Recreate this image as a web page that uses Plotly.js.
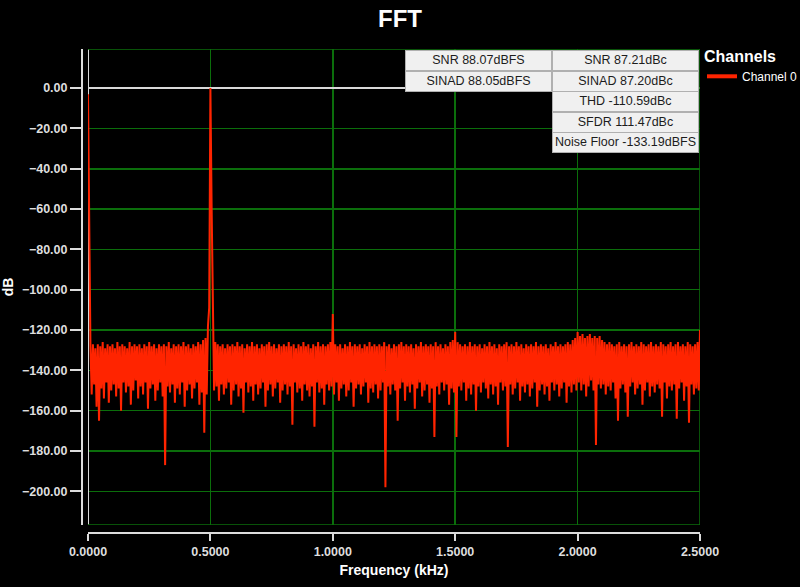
<!DOCTYPE html>
<html>
<head>
<meta charset="utf-8">
<script src="https://cdn.plot.ly/plotly-3.0.1.min.js"></script>
<style>
  html, body { margin: 0; padding: 0; background: #000; }
  #plot_area { width: 800px; height: 587px; }
</style>
</head>
<body>
<div id="plot_area"></div>
<script>
// FFT of channel 0, one value per bin (bin width 5 Hz, 0 .. 2.5 kHz)
const freqStartKhz = 0;
const binWidthKhz = 0.005;
const channel0Db = [
  -3, -76, -128, -152, -127, -147, -129, -158, -127, -165, -128, -149, -126, -154, -129, -146, -127, -156, -128, -150,
  -127, -147, -129, -153, -126, -149, -128, -160, -127, -146, -128, -151, -129, -148, -126, -157, -128, -150, -127, -145,
  -128, -154, -127, -148, -129, -152, -127, -146, -128, -159, -126, -149, -128, -147, -127, -155, -129, -150, -127, -146,
  -128, -153, -127, -187, -128, -148, -126, -151, -129, -147, -127, -156, -128, -149, -127, -152, -128, -146, -126, -158,
  -128, -150, -127, -147, -129, -154, -127, -149, -128, -146, -126, -157, -127, -151, -125, -171, -124, -152, -118, -109,
  0, -59, -110, -150, -126, -148, -127, -155, -128, -147, -127, -152, -129, -149, -127, -146, -128, -157, -127, -150,
  -128, -147, -126, -153, -128, -149, -127, -161, -129, -146, -127, -151, -128, -148, -126, -155, -128, -147, -127, -152,
  -129, -149, -127, -146, -128, -158, -127, -150, -126, -147, -128, -153, -127, -149, -129, -146, -127, -156, -128, -150,
  -127, -147, -128, -152, -126, -148, -128, -167, -127, -146, -129, -151, -127, -149, -128, -155, -126, -147, -128, -150,
  -127, -153, -129, -148, -127, -168, -128, -146, -126, -151, -128, -149, -127, -157, -128, -147, -127, -150, -126, -148,
  -112, -152, -127, -146, -128, -155, -127, -149, -129, -147, -127, -153, -128, -150, -126, -146, -128, -158, -127, -149,
  -128, -147, -127, -152, -129, -148, -127, -146, -128, -156, -126, -149, -128, -151, -127, -147, -128, -154, -127, -150,
  -128, -146, -126, -198, -128, -148, -127, -152, -129, -147, -127, -150, -128, -165, -127, -149, -126, -146, -128, -155,
  -127, -148, -128, -151, -127, -147, -129, -159, -127, -149, -128, -146, -126, -153, -128, -150, -127, -147, -128, -156,
  -127, -149, -128, -173, -126, -148, -128, -152, -127, -146, -129, -150, -127, -147, -128, -157, -126, -149, -125, -151,
  -121, -173, -126, -148, -127, -150, -128, -146, -127, -155, -128, -149, -126, -152, -128, -147, -127, -160, -128, -148,
  -127, -151, -129, -146, -127, -149, -128, -154, -126, -147, -128, -152, -127, -148, -129, -157, -127, -146, -128, -150,
  -127, -148, -126, -178, -128, -147, -127, -152, -128, -149, -126, -146, -128, -155, -127, -148, -129, -151, -127, -147,
  -128, -153, -127, -149, -128, -146, -126, -158, -128, -150, -127, -147, -128, -152, -127, -148, -129, -155, -127, -146,
  -128, -150, -126, -147, -128, -153, -127, -149, -128, -146, -127, -156, -126, -148, -127, -151, -125, -147, -124, -150,
  -121, -146, -123, -150, -122, -147, -124, -153, -123, -148, -122, -145, -124, -150, -123, -177, -124, -147, -123, -149,
  -125, -147, -126, -152, -127, -148, -126, -150, -127, -146, -128, -154, -127, -165, -126, -149, -128, -147, -127, -151,
  -128, -163, -127, -148, -126, -146, -128, -152, -127, -149, -128, -147, -126, -157, -127, -150, -128, -146, -127, -153,
  -126, -148, -128, -151, -127, -147, -128, -149, -126, -163, -127, -146, -128, -154, -127, -148, -126, -150, -128, -147,
  -127, -164, -126, -149, -128, -146, -127, -155, -128, -148, -126, -166, -127, -147, -128, -152, -127, -149, -126, -150,
  -120
];

// Measurement table (two columns)
const statsLeft = ['SNR 88.07dBFS', 'SINAD 88.05dBFS'];
const statsRight = ['SNR 87.21dBc', 'SINAD 87.20dBc', 'THD -110.59dBc', 'SFDR 111.47dBc', 'Noise Floor -133.19dBFS'];

// Axes
const xRange = [0, 2.5];
const yRange = [-216.7, 19.4];
const yTickStep = 20;
const xTickStep = 0.5;

const plot_area = document.getElementById('plot_area');

// Page geometry in px (paper runs from the axis lines to the plot corner)
const W = 800, H = 587;
const marginL = 82, marginR = 100, marginT = 49, marginB = 54;
const paperW = W - marginL - marginR;
const paperH = H - marginT - marginB;
const px2x = px => (px - marginL) / paperW;
const px2y = py => (H - marginB - py) / paperH;

const red = '#ff2400';
const grid = '#0b6e0b';
const axisWhite = '#dcdcdc';
const font = 'Liberation Sans, Arial, sans-serif';
const tickFont = { family: font, size: 12.5, color: '#dedede', weight: 'bold' };

const trace = {
    type: 'scatter',
    mode: 'lines',
    x0: freqStartKhz,
    dx: binWidthKhz,
    y: channel0Db,
    line: { color: red, width: 2 },
    name: 'Channel 0',
    showlegend: false,
    hoverinfo: 'x+y'
};

// legend entry only (thicker swatch like the original)
const legendTrace = {
    type: 'scatter',
    mode: 'lines',
    x: [null],
    y: [null],
    line: { color: red, width: 4 },
    name: 'Channel 0',
    showlegend: true
};

// stats table cells
const annotations = [];
const rowH = 20.6;
const cellW = 145;
function addCell(text, leftPx, topPx) {
    annotations.push({
        xref: 'paper', yref: 'paper',
        x: px2x(leftPx), y: px2y(topPx),
        xanchor: 'left', yanchor: 'top',
        text: text,
        showarrow: false,
        width: cellW, height: rowH - 2,
        align: 'center', valign: 'middle',
        bgcolor: '#f0f0f0',
        bordercolor: '#b0b0b0',
        borderwidth: 1,
        borderpad: 0,
        font: { family: font, size: 12.5, color: '#1c1c1c' }
    });
}
statsLeft.forEach((t, i) => addCell(t, 405, 50 + i * rowH));
statsRight.forEach((t, i) => addCell(t, 552, 50 + i * rowH));

const shapes = [
    // 0 dB reference line
    { type: 'line', xref: 'x', yref: 'y', x0: xRange[0], x1: xRange[1], y0: 0, y1: 0,
      line: { color: '#d8d8d8', width: 2 }, layer: 'between' },
    // cursor at 0 Hz
    { type: 'line', xref: 'x', yref: 'y', x0: 0, x1: 0, y0: yRange[0], y1: yRange[1],
      line: { color: '#d8d8d8', width: 2 }, layer: 'between' },
    // plot border (top / right / bottom)
    { type: 'path', xref: 'x', yref: 'y',
      path: `M ${xRange[0]},${yRange[1]} L ${xRange[1]},${yRange[1]} L ${xRange[1]},${yRange[0]} L ${xRange[0]},${yRange[0]}`,
      line: { color: grid, width: 1.5 }, layer: 'between' }
];

const layout = {
    width: W,
    height: H,
    paper_bgcolor: '#000',
    plot_bgcolor: '#000',
    margin: { l: marginL, r: marginR, t: marginT, b: marginB, pad: 0, autoexpand: false },
    font: { family: font, color: '#e6e6e6' },
    title: {
        text: '<b>FFT</b>',
        font: { family: font, size: 24, color: '#ffffff' },
        x: 0.5, xanchor: 'center',
        y: 1 - 19 / H, yanchor: 'middle'
    },
    xaxis: {
        range: xRange,
        domain: [6 / paperW, 1],
        anchor: 'free',
        position: 0,
        tick0: 0,
        dtick: xTickStep,
        tickformat: '.4f',
        ticks: 'outside',
        ticklen: 7,
        tickwidth: 2,
        tickcolor: axisWhite,
        showline: true,
        linecolor: axisWhite,
        linewidth: 2,
        showgrid: true,
        gridcolor: grid,
        gridwidth: 1.5,
        zeroline: false,
        automargin: false,
        tickfont: tickFont,
        title: { text: '<b>Frequency (kHz)</b>', font: { family: font, size: 14, color: '#ffffff' }, standoff: 6 }
    },
    yaxis: {
        range: yRange,
        domain: [8 / paperH, 1],
        anchor: 'free',
        position: 0,
        tick0: 0,
        dtick: yTickStep,
        tickformat: '.2f',
        ticks: 'outside',
        ticklen: 11,
        tickwidth: 2,
        tickcolor: axisWhite,
        showline: true,
        linecolor: axisWhite,
        linewidth: 2,
        showgrid: true,
        gridcolor: grid,
        gridwidth: 1.5,
        zeroline: false,
        automargin: false,
        tickfont: tickFont,
        title: { text: '<b>dB</b>', font: { family: font, size: 14, color: '#ffffff' }, standoff: 6 }
    },
    legend: {
        xref: 'container',
        yref: 'container',
        x: 702 / W,
        y: 1 - 41 / H,
        xanchor: 'left',
        yanchor: 'top',
        bgcolor: 'rgba(0,0,0,0)',
        borderwidth: 0,
        font: { family: font, size: 12, color: '#ffffff' },
        title: { text: '<b>Channels</b>', font: { family: font, size: 16, color: '#ffffff' } },
        itemwidth: 30
    },
    shapes: shapes,
    annotations: annotations,
    showlegend: true
};

Plotly.newPlot(plot_area, [trace, legendTrace], layout, { displayModeBar: false, staticPlot: true });
</script>
</body>
</html>
